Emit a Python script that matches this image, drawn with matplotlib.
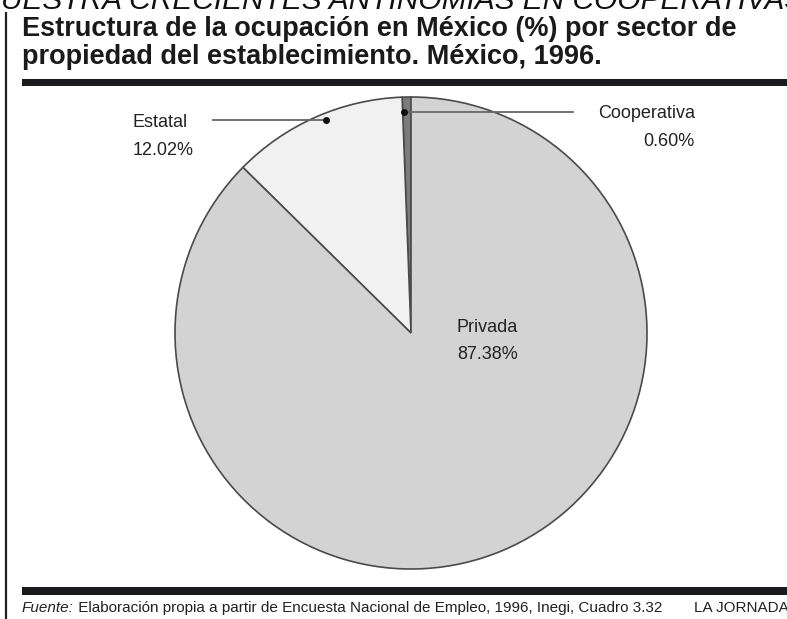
import matplotlib
matplotlib.use("Agg")
import matplotlib.pyplot as plt
from matplotlib.patches import Rectangle

# ---- data ----
sectors = ["Cooperativa", "Estatal", "Privada"]
shares = [0.60, 12.02, 87.38]
colors = ["#7c7c7c", "#f1f1f1", "#d3d3d3"]

title_lines = ["Estructura de la ocupación en México (%) por sector de",
               "propiedad del establecimiento. México, 1996."]
headline = "MUESTRA CRECIENTES ANTINOMIAS EN COOPERATIVAS"
source_label = "Fuente:"
source_text = " Elaboración propia a partir de Encuesta Nacional de Empleo, 1996, Inegi, Cuadro 3.32"
brand = "LA JORNADA"

W, H = 787, 619
DPI = 100
FONT = ["Liberation Sans", "DejaVu Sans"]
plt.rcParams["font.family"] = FONT

fig = plt.figure(figsize=(W / DPI, H / DPI), dpi=DPI)
fig.patch.set_facecolor("white")

# pie axes: centre (411,333) px, radius 236 px
cx, cy, r = 411, 333, 236
pax = fig.add_axes([(cx - r) / W, (H - cy - r) / H, 2 * r / W, 2 * r / H])
wedges, _ = pax.pie(shares, colors=colors, startangle=90, counterclock=True,
                    radius=1.0,
                    wedgeprops=dict(edgecolor="#4a4a4a", linewidth=1.2))
pax.set_xlim(-1, 1)
pax.set_ylim(-1, 1)
pax.set_aspect("equal")
for w in wedges:
    w.set_clip_on(False)

# overlay axes in pixel coordinates (y down)
ov = fig.add_axes([0, 0, 1, 1])
ov.set_xlim(0, W)
ov.set_ylim(H, 0)
ov.axis("off")

# headline cut off at the top
ov.text(-24, 9, headline, fontsize=21.5, style="italic", ha="left",
        va="baseline", color="#111111")

# left rule
ov.plot([6, 6], [12, H], color="#222222", lw=1.6, solid_capstyle="butt")

# title
ov.text(22, 36, title_lines[0], fontsize=19.5, fontweight="bold", ha="left",
        va="baseline", color="#1a1a1a")
ov.text(22, 64, title_lines[1], fontsize=19.5, fontweight="bold", ha="left",
        va="baseline", color="#1a1a1a")

# thick bars
ov.add_patch(Rectangle((22, 79), W - 22, 7, color="#1b1b1f", lw=0))
ov.add_patch(Rectangle((22, 587), W - 22, 8, color="#1b1b1f", lw=0))

# labels
lab_fs = 13
ov.text(133, 127, sectors[1], fontsize=lab_fs, ha="left", va="baseline", color="#222222")
ov.text(133, 155, f"{shares[1]:.2f}%", fontsize=lab_fs, ha="left", va="baseline", color="#222222")
ov.plot([213, 326], [120, 120], color="#666666", lw=1.3)
ov.plot([326], [120], "o", color="#111111", ms=4)

ov.text(695, 118, sectors[0], fontsize=lab_fs, ha="right", va="baseline", color="#222222")
ov.text(695, 146, f"{shares[0]:.2f}%", fontsize=lab_fs, ha="right", va="baseline", color="#222222")
ov.plot([404, 573], [112, 112], color="#666666", lw=1.3)
ov.plot([404], [112], "o", color="#111111", ms=4)

ov.text(457, 332, sectors[2], fontsize=lab_fs, ha="left", va="baseline", color="#222222")
ov.text(457, 359, f"{shares[2]:.2f}%", fontsize=lab_fs, ha="left", va="baseline", color="#222222")

# footer
foot_fs = 11
t1 = ov.text(22, 612, source_label, fontsize=foot_fs, style="italic", ha="left",
             va="baseline", color="#222222")
fig.canvas.draw()
bb = t1.get_window_extent()
ov.annotate(source_text, xy=(bb.x1, H - 612), xycoords="figure pixels",
            fontsize=foot_fs, ha="left", va="baseline", color="#222222")
ov.text(694, 612, brand, fontsize=foot_fs, ha="left", va="baseline", color="#222222")

fig.savefig("out.png", dpi=DPI)
